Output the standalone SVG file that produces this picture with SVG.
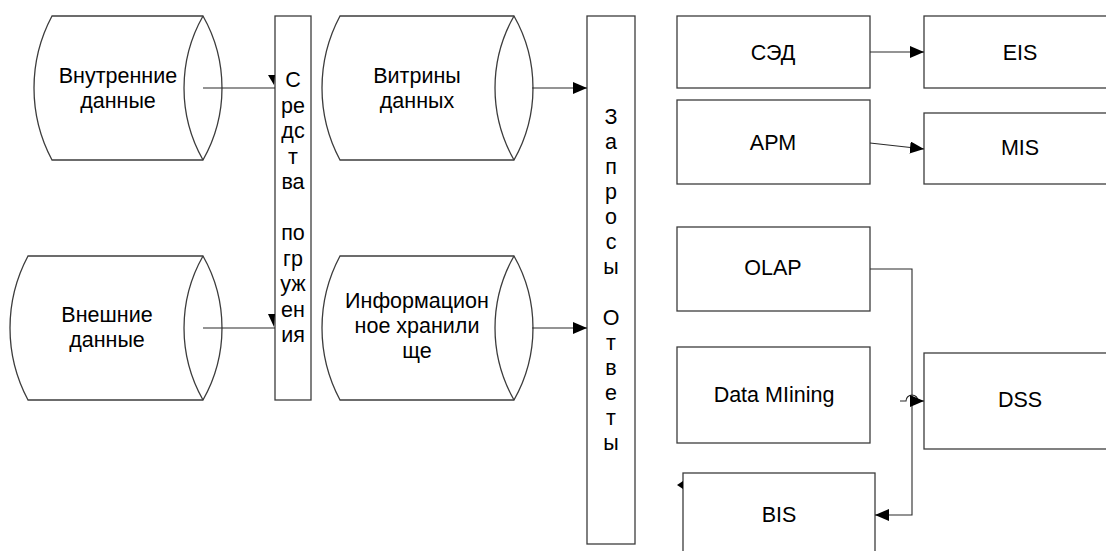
<svg xmlns="http://www.w3.org/2000/svg" width="1106" height="551" viewBox="0 0 1106 551">
  <style>
    .shape { fill: #ffffff; stroke: #3c3c3c; stroke-width: 1.3; }
    .line { fill: none; stroke: #2a2a2a; stroke-width: 1.1; }
    text { font-family: "Liberation Sans", Arial, sans-serif; font-size: 21.5px; fill: #000000; text-anchor: middle; }
  </style>
  <defs>
    <marker id="arrow" markerUnits="userSpaceOnUse" markerWidth="15" markerHeight="13" refX="14" refY="6" orient="auto">
      <path d="M0,0 L14,6 L0,12 z" fill="#000000"/>
    </marker>
  </defs>

  <!-- data sources -->
  <g id="internal-data">
    <path class="shape" d="M52,16 H203 A146,146 0 0 1 203,160 H52 A153,153 0 0 1 52,16 z"/>
    <path class="shape" d="M203,16 A146,146 0 0 0 203,160"/>
    <text x="118" y="83">Внутренние</text>
    <text x="118" y="108">данные</text>
  </g>

  <g id="external-data">
    <path class="shape" d="M28,256 H203 A146,146 0 0 1 203,400 H28 A153,153 0 0 1 28,256 z"/>
    <path class="shape" d="M203,256 A146,146 0 0 0 203,400"/>
    <text x="107" y="322">Внешние</text>
    <text x="107" y="347">данные</text>
  </g>

  <!-- loading tools -->
  <g id="loading-tools">
    <rect class="shape" x="275" y="16" width="36" height="384"/>
    <text x="293" y="87">С</text>
    <text x="293" y="112.5">ре</text>
    <text x="293" y="138">дс</text>
    <text x="293" y="163.5">т</text>
    <text x="293" y="189">ва</text>
    <text x="293" y="240">по</text>
    <text x="293" y="265.5">гр</text>
    <text x="293" y="291">уж</text>
    <text x="293" y="316.5">ен</text>
    <text x="293" y="342">ия</text>
  </g>

  <!-- storage -->
  <g id="data-marts">
    <path class="shape" d="M340,16 H514 A146,146 0 0 1 514,160 H340 A153,153 0 0 1 340,16 z"/>
    <path class="shape" d="M514,16 A146,146 0 0 0 514,160"/>
    <text x="417" y="83">Витрины</text>
    <text x="417" y="108">данных</text>
  </g>

  <g id="data-warehouse">
    <path class="shape" d="M340,256 H514 A146,146 0 0 1 514,400 H340 A153,153 0 0 1 340,256 z"/>
    <path class="shape" d="M514,256 A146,146 0 0 0 514,400"/>
    <text x="417" y="308">Информацион</text>
    <text x="417" y="333">ное хранили</text>
    <text x="417" y="358">ще</text>
  </g>

  <!-- queries / answers -->
  <g id="queries-answers">
    <rect class="shape" x="587" y="16" width="48" height="528"/>
    <text x="611" y="124">З</text>
    <text x="611" y="149">а</text>
    <text x="611" y="174">п</text>
    <text x="611" y="199">р</text>
    <text x="611" y="224">о</text>
    <text x="611" y="249">с</text>
    <text x="611" y="274">ы</text>
    <text x="611" y="325">О</text>
    <text x="611" y="350">т</text>
    <text x="611" y="375">в</text>
    <text x="611" y="400">е</text>
    <text x="611" y="425">т</text>
    <text x="611" y="450">ы</text>
  </g>

  <!-- applications -->
  <g id="sed">
    <rect class="shape" x="677" y="16" width="193" height="72"/>
    <text x="773" y="60">СЭД</text>
  </g>
  <g id="eis">
    <rect class="shape" x="924" y="16" width="190" height="72"/>
    <text x="1020" y="60">EIS</text>
  </g>
  <g id="arm">
    <rect class="shape" x="677" y="100" width="193" height="84"/>
    <text x="773" y="150">АРМ</text>
  </g>
  <g id="mis">
    <rect class="shape" x="924" y="113" width="190" height="71"/>
    <text x="1020" y="155">MIS</text>
  </g>
  <g id="olap">
    <rect class="shape" x="677" y="227" width="193" height="84"/>
    <text x="773" y="275">OLAP</text>
  </g>
  <g id="data-mining">
    <rect class="shape" x="677" y="347" width="193" height="96"/>
    <text x="774" y="402">Data MIining</text>
  </g>
  <g id="dss">
    <rect class="shape" x="924" y="353" width="190" height="96"/>
    <text x="1020" y="407">DSS</text>
  </g>
  <g id="bis">
    <rect class="shape" x="683" y="473" width="192" height="90"/>
    <text x="779" y="522">BIS</text>
  </g>

  <!-- connectors -->
  <g id="connectors">
    <line class="line" x1="203" y1="88" x2="275" y2="88"/>
    <polygon points="268,75 275,75 274,85" fill="#000000"/>
    <line class="line" x1="203" y1="328" x2="275" y2="328"/>
    <polygon points="268,314 275,314 274,327" fill="#000000"/>

    <line class="line" x1="532" y1="88" x2="587" y2="88" marker-end="url(#arrow)"/>
    <line class="line" x1="532" y1="328" x2="587" y2="328" marker-end="url(#arrow)"/>

    <line class="line" x1="870" y1="52" x2="924" y2="52" marker-end="url(#arrow)"/>
    <line class="line" x1="870" y1="143" x2="924" y2="149" marker-end="url(#arrow)"/>

    <polyline class="line" points="870,269 912,269 912,515 875,515" marker-end="url(#arrow)"/>
    <path class="line" d="M900,401 H906 A6,6 0 0 1 918,401 H924" marker-end="url(#arrow)"/>

    <polygon points="677,485 683,481 683,489" fill="#000000"/>
  </g>
</svg>
